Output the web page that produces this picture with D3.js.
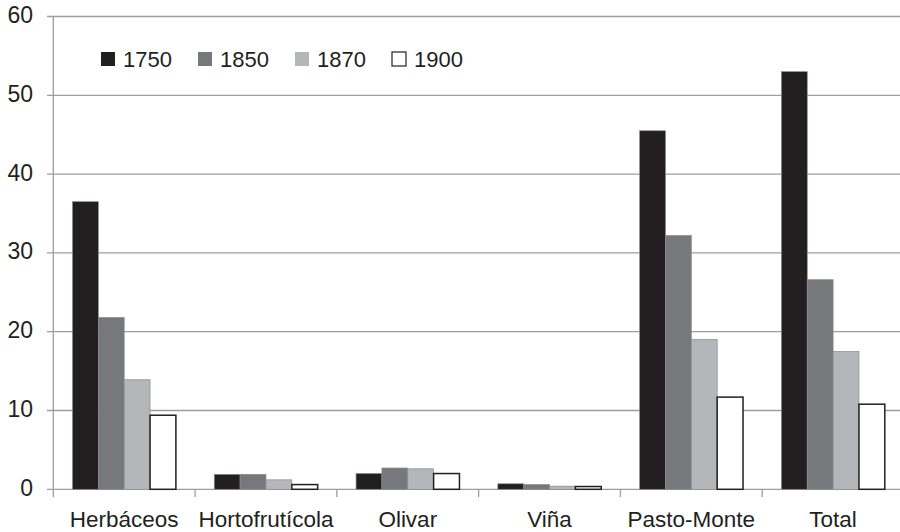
<!DOCTYPE html>
<html><head><meta charset="utf-8">
<script src="https://cdn.jsdelivr.net/npm/d3@7"></script>
<style>body{margin:0;background:#fff}svg{display:block}text{font-family:"Liberation Sans",Arial,sans-serif;fill:#231f20}</style>
</head><body><svg id="c" width="900" height="532"></svg>
<script>
const categories = ["Herbáceos","Hortofrutícola","Olivar","Viña","Pasto-Monte","Total"];
const years = ["1750","1850","1870","1900"];
const v1750 = [36.5, 1.9, 2.0, 0.7, 45.5, 53.0];
const v1850 = [21.8, 1.9, 2.7, 0.6, 32.2, 26.6];
const v1870 = [13.9, 1.2, 2.6, 0.4, 19.0, 17.5];
const v1900 = [9.4, 0.6, 2.0, 0.35, 11.7, 10.8];
const yTicks = [0,10,20,30,40,50,60];
const colors = ["#231f20","#77787b","#b5b6b9","#ffffff"];

const series = [v1750, v1850, v1870, v1900];
const svg = d3.select("#c");
const mLeft = 53.3, mRight = 904, mTop = 16.5, mBottom = 489.3;
const x0 = d3.scaleBand().domain(categories).range([mLeft, mRight]).paddingInner(0).paddingOuter(0);
const inner = 103.4 / x0.bandwidth();
const x1 = d3.scaleBand().domain(years).range([0, x0.bandwidth()*inner]);
const y = d3.scaleLinear().domain([0,60]).range([mBottom, mTop]);

svg.append("g").selectAll("line").data(yTicks).join("line")
  .attr("x1", 47).attr("x2", 900).attr("y1", d=>y(d)).attr("y2", d=>y(d))
  .attr("stroke", "#9d9d9f").attr("stroke-width", 1.3);
svg.append("g").selectAll("text").data(yTicks).join("text")
  .attr("x", 33).attr("y", d=>y(d)+6.5).attr("text-anchor","end")
  .attr("font-size", 23).text(d=>d);
svg.append("line").attr("x1",mLeft).attr("x2",mLeft).attr("y1",y(60)).attr("y2",497)
  .attr("stroke","#9d9d9f").attr("stroke-width",1.3);
svg.append("g").selectAll("line").data(categories.slice(1)).join("line")
  .attr("x1", d=>x0(d)).attr("x2", d=>x0(d)).attr("y1", mBottom).attr("y2", 497)
  .attr("stroke","#9d9d9f").attr("stroke-width",1.3);

const off = (x0.bandwidth() - x0.bandwidth()*inner)/2;
series.forEach((vals, si) => {
  svg.append("g").selectAll("rect").data(vals).join("rect")
    .attr("x", (d,i)=>x0(categories[i]) + off + x1(years[si]))
    .attr("width", x1.bandwidth())
    .attr("y", d=>y(d))
    .attr("height", d=>mBottom - y(d))
    .attr("fill", colors[si])
    .attr("stroke", si===3 ? "#231f20" : "#8a8a8c")
    .attr("stroke-width", si===3 ? 1.5 : 0.7);
});

svg.append("g").selectAll("text").data(categories).join("text")
  .attr("x", d=>x0(d)+x0.bandwidth()/2).attr("y", 526.5).attr("text-anchor","middle")
  .attr("font-size", 22.5).text(d=>d);

const lg = svg.append("g");
years.forEach((yr,i)=>{
  const lx = 101 + i*97;
  lg.append("rect").attr("x", lx).attr("y", 52).attr("width", 14).attr("height", 14)
    .attr("fill", colors[i]).attr("stroke", i===3 ? "#231f20" : "none").attr("stroke-width", 1.2);
  lg.append("text").attr("x", lx+22).attr("y", 67).attr("font-size", 22).text(yr);
});
</script></body></html>
